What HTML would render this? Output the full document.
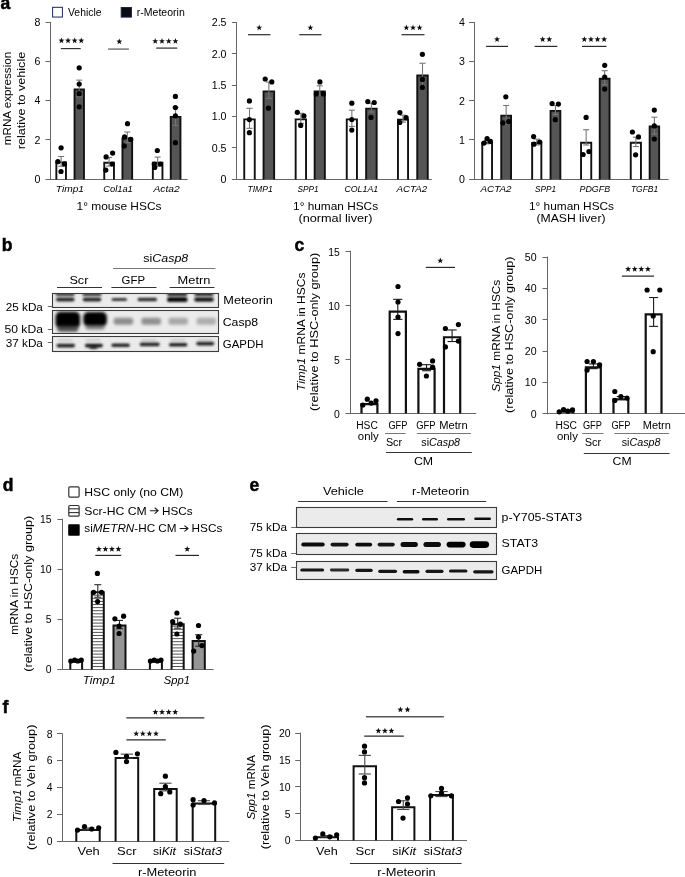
<!DOCTYPE html>
<html><head><meta charset="utf-8"><title>Figure</title>
<style>
html,body{margin:0;padding:0;background:#fff;}
svg{display:block;will-change:transform;}
text{font-family:"Liberation Sans", sans-serif;}
</style></head>
<body>
<svg width="685" height="877" viewBox="0 0 685 877">
<defs>
<filter id="bl0" x="-20%" y="-50%" width="140%" height="200%"><feGaussianBlur stdDeviation="0.55"/></filter>
<filter id="blh" x="-20%" y="-50%" width="140%" height="200%"><feGaussianBlur stdDeviation="0.7"/></filter>
<filter id="bl1" x="-20%" y="-50%" width="140%" height="200%"><feGaussianBlur stdDeviation="0.8"/></filter>
<filter id="bl2" x="-20%" y="-50%" width="140%" height="200%"><feGaussianBlur stdDeviation="1.4"/></filter>
<filter id="bl3" x="-30%" y="-50%" width="160%" height="200%"><feGaussianBlur stdDeviation="2.2"/></filter>
<clipPath id="cb0"><rect x="52.5" y="293.5" width="166" height="14"/></clipPath>
<clipPath id="cb1"><rect x="52.5" y="310.5" width="166" height="23"/></clipPath>
<clipPath id="cb2"><rect x="52.5" y="336.5" width="166" height="15"/></clipPath>
<clipPath id="cb3"><rect x="296.5" y="507.5" width="200" height="20"/></clipPath>
<clipPath id="cb4"><rect x="296.5" y="533.5" width="200" height="21"/></clipPath>
<clipPath id="cb5"><rect x="296.5" y="561.5" width="200" height="18"/></clipPath>
</defs>
<rect width="685" height="877" fill="#fff"/>
<text x="0.4" y="8.8" font-size="17.5" font-weight="bold" fill="#000" stroke="#000" stroke-width="0.5">a</text>
<rect x="52.55" y="7.35" width="9.9" height="9.7" fill="#fff" stroke="#2b3d66" stroke-width="1.1"/>
<text x="68" y="16.1" font-size="10.2" textLength="33.5" lengthAdjust="spacingAndGlyphs">Vehicle</text>
<rect x="121.2" y="7.5" width="10.2" height="9.6" fill="#0b0b16" stroke="#1b2440" stroke-width="1"/>
<text x="136.8" y="16.1" font-size="10.2" textLength="48" lengthAdjust="spacingAndGlyphs">r-Meteorin</text>
<text x="10.8" y="98.5" font-size="11.4" text-anchor="middle" textLength="93.5" lengthAdjust="spacingAndGlyphs" transform="rotate(-90 10.8 98.5)">mRNA expression</text>
<text x="24.7" y="100.5" font-size="11.4" text-anchor="middle" textLength="97.5" lengthAdjust="spacingAndGlyphs" transform="rotate(-90 24.7 100.5)">relative to vehicle</text>
<line x1="50.5" y1="21.9" x2="50.5" y2="179.5" stroke="#666666" stroke-width="1"/>
<line x1="50" y1="179.5" x2="187.6" y2="179.5" stroke="#666666" stroke-width="1"/>
<line x1="45.5" y1="179.5" x2="50.5" y2="179.5" stroke="#666666" stroke-width="1"/>
<text x="40.5" y="182.79" font-size="10.6" text-anchor="end">0</text>
<line x1="45.5" y1="139.5" x2="50.5" y2="139.5" stroke="#666666" stroke-width="1"/>
<text x="40.5" y="143.64" font-size="10.6" text-anchor="end">2</text>
<line x1="45.5" y1="100.5" x2="50.5" y2="100.5" stroke="#666666" stroke-width="1"/>
<text x="40.5" y="104.49" font-size="10.6" text-anchor="end">4</text>
<line x1="45.5" y1="61.5" x2="50.5" y2="61.5" stroke="#666666" stroke-width="1"/>
<text x="40.5" y="65.34" font-size="10.6" text-anchor="end">6</text>
<line x1="45.5" y1="22.5" x2="50.5" y2="22.5" stroke="#666666" stroke-width="1"/>
<text x="40.5" y="26.19" font-size="10.6" text-anchor="end">8</text>
<rect x="56.35" y="162.33" width="9.6" height="16.67" fill="#fff"/>
<path d="M56.35 179.5V162.33H65.95V179.5" fill="none" stroke="#111" stroke-width="1.9" stroke-linejoin="miter"/>
<line x1="61.15" y1="156.49" x2="61.15" y2="166.28" stroke="#777" stroke-width="1.1"/>
<line x1="58.15" y1="156.49" x2="64.15" y2="156.49" stroke="#777" stroke-width="1.1"/>
<line x1="58.15" y1="166.28" x2="64.15" y2="166.28" stroke="#777" stroke-width="1.1"/>
<circle cx="61.1" cy="147.8" r="2.6" fill="#000"/>
<circle cx="57.8" cy="161.7" r="2.6" fill="#000"/>
<circle cx="64.5" cy="163.9" r="2.6" fill="#000"/>
<circle cx="61" cy="171.5" r="2.6" fill="#000"/>
<rect x="74.55" y="89.51" width="9.4" height="89.49" fill="#555555"/>
<path d="M74.55 179.5V89.51H83.95V179.5" fill="none" stroke="#111" stroke-width="1.9" stroke-linejoin="miter"/>
<line x1="79.25" y1="80.15" x2="79.25" y2="96.78" stroke="#777" stroke-width="1.1"/>
<line x1="76.25" y1="80.15" x2="82.25" y2="80.15" stroke="#777" stroke-width="1.1"/>
<line x1="76.25" y1="96.78" x2="82.25" y2="96.78" stroke="#777" stroke-width="1.1"/>
<circle cx="79.2" cy="67.8" r="2.6" fill="#000"/>
<circle cx="79.2" cy="84.1" r="2.6" fill="#000"/>
<circle cx="79.2" cy="93.7" r="2.6" fill="#000"/>
<circle cx="79.2" cy="106.8" r="2.6" fill="#000"/>
<rect x="104.25" y="162.72" width="9.7" height="16.28" fill="#fff"/>
<path d="M104.25 179.5V162.72H113.95V179.5" fill="none" stroke="#111" stroke-width="1.9" stroke-linejoin="miter"/>
<line x1="109.1" y1="157.47" x2="109.1" y2="166.08" stroke="#777" stroke-width="1.1"/>
<line x1="106.1" y1="157.47" x2="112.1" y2="157.47" stroke="#777" stroke-width="1.1"/>
<line x1="106.1" y1="166.08" x2="112.1" y2="166.08" stroke="#777" stroke-width="1.1"/>
<circle cx="106.1" cy="156.9" r="2.6" fill="#000"/>
<circle cx="112.6" cy="153.1" r="2.6" fill="#000"/>
<circle cx="112.3" cy="164" r="2.6" fill="#000"/>
<circle cx="105.8" cy="170.1" r="2.6" fill="#000"/>
<rect x="122.45" y="138.45" width="9.7" height="40.55" fill="#555555"/>
<path d="M122.45 179.5V138.45H132.15V179.5" fill="none" stroke="#111" stroke-width="1.9" stroke-linejoin="miter"/>
<line x1="127.3" y1="132.02" x2="127.3" y2="142.79" stroke="#777" stroke-width="1.1"/>
<line x1="124.3" y1="132.02" x2="130.3" y2="132.02" stroke="#777" stroke-width="1.1"/>
<line x1="124.3" y1="142.79" x2="130.3" y2="142.79" stroke="#777" stroke-width="1.1"/>
<circle cx="127.5" cy="123.7" r="2.6" fill="#000"/>
<circle cx="124.5" cy="136.8" r="2.6" fill="#000"/>
<circle cx="130.7" cy="139.4" r="2.6" fill="#000"/>
<circle cx="124.2" cy="145.9" r="2.6" fill="#000"/>
<rect x="152.85" y="162.72" width="9.6" height="16.28" fill="#fff"/>
<path d="M152.85 179.5V162.72H162.45V179.5" fill="none" stroke="#111" stroke-width="1.9" stroke-linejoin="miter"/>
<line x1="157.65" y1="157.08" x2="157.65" y2="166.28" stroke="#777" stroke-width="1.1"/>
<line x1="154.65" y1="157.08" x2="160.65" y2="157.08" stroke="#777" stroke-width="1.1"/>
<line x1="154.65" y1="166.28" x2="160.65" y2="166.28" stroke="#777" stroke-width="1.1"/>
<circle cx="157.3" cy="150.5" r="2.6" fill="#000"/>
<circle cx="154.3" cy="164" r="2.6" fill="#000"/>
<circle cx="160.4" cy="164" r="2.6" fill="#000"/>
<circle cx="154.7" cy="167.4" r="2.6" fill="#000"/>
<rect x="170.75" y="116.92" width="9.7" height="62.08" fill="#555555"/>
<path d="M170.75 179.5V116.92H180.45V179.5" fill="none" stroke="#111" stroke-width="1.9" stroke-linejoin="miter"/>
<line x1="175.6" y1="107.36" x2="175.6" y2="125.36" stroke="#777" stroke-width="1.1"/>
<line x1="172.6" y1="107.36" x2="178.6" y2="107.36" stroke="#777" stroke-width="1.1"/>
<line x1="172.6" y1="125.36" x2="178.6" y2="125.36" stroke="#777" stroke-width="1.1"/>
<circle cx="175.4" cy="96.4" r="2.6" fill="#000"/>
<circle cx="175.4" cy="107.5" r="2.6" fill="#000"/>
<circle cx="175.4" cy="115.8" r="2.6" fill="#000"/>
<circle cx="175.4" cy="142.7" r="2.6" fill="#000"/>
<line x1="60.8" y1="48.6" x2="80.7" y2="48.6" stroke="#333" stroke-width="1.2"/>
<polygon points="61.45,37.45 62.23,39.53 64.45,39.63 62.71,41.01 63.3,43.15 61.45,41.92 59.6,43.15 60.19,41.01 58.45,39.63 60.67,39.53" fill="#111"/>
<polygon points="68.05,37.45 68.83,39.53 71.05,39.63 69.31,41.01 69.9,43.15 68.05,41.92 66.2,43.15 66.79,41.01 65.05,39.63 67.27,39.53" fill="#111"/>
<polygon points="74.65,37.45 75.43,39.53 77.65,39.63 75.91,41.01 76.5,43.15 74.65,41.92 72.8,43.15 73.39,41.01 71.65,39.63 73.87,39.53" fill="#111"/>
<polygon points="81.25,37.45 82.03,39.53 84.25,39.63 82.51,41.01 83.1,43.15 81.25,41.92 79.4,43.15 79.99,41.01 78.25,39.63 80.47,39.53" fill="#111"/>
<line x1="108.1" y1="49.1" x2="128.9" y2="49.1" stroke="#777" stroke-width="1.5"/>
<polygon points="119.3,38.45 120.08,40.53 122.3,40.63 120.56,42.01 121.15,44.15 119.3,42.92 117.45,44.15 118.04,42.01 116.3,40.63 118.52,40.53" fill="#111"/>
<line x1="156.2" y1="48.1" x2="177.3" y2="48.1" stroke="#2a2a2a" stroke-width="1.2"/>
<polygon points="155.22,38.05 156,40.13 158.22,40.23 156.48,41.61 157.08,43.75 155.22,42.52 153.37,43.75 153.97,41.61 152.23,40.23 154.45,40.13" fill="#111"/>
<polygon points="161.97,38.05 162.75,40.13 164.97,40.23 163.23,41.61 163.83,43.75 161.97,42.52 160.12,43.75 160.72,41.61 158.98,40.23 161.2,40.13" fill="#111"/>
<polygon points="168.72,38.05 169.5,40.13 171.72,40.23 169.98,41.61 170.58,43.75 168.72,42.52 166.87,43.75 167.47,41.61 165.73,40.23 167.95,40.13" fill="#111"/>
<polygon points="175.47,38.05 176.25,40.13 178.47,40.23 176.73,41.61 177.33,43.75 175.47,42.52 173.62,43.75 174.22,41.61 172.48,40.23 174.7,40.13" fill="#111"/>
<text x="69.9" y="192" font-size="9.6" text-anchor="middle" font-style="italic" textLength="28.3" lengthAdjust="spacingAndGlyphs">Timp1</text>
<text x="118" y="192" font-size="9.6" text-anchor="middle" font-style="italic" textLength="29.6" lengthAdjust="spacingAndGlyphs">Col1a1</text>
<text x="166.6" y="192" font-size="9.6" text-anchor="middle" font-style="italic" textLength="26.3" lengthAdjust="spacingAndGlyphs">Acta2</text>
<text x="119" y="210.2" font-size="11.3" text-anchor="middle" textLength="85" lengthAdjust="spacingAndGlyphs">1° mouse HSCs</text>
<line x1="236.5" y1="22.1" x2="236.5" y2="179.5" stroke="#666666" stroke-width="1"/>
<line x1="236.4" y1="179.5" x2="431.8" y2="179.5" stroke="#666666" stroke-width="1"/>
<line x1="231.9" y1="179.5" x2="236.9" y2="179.5" stroke="#666666" stroke-width="1"/>
<text x="226.5" y="182.79" font-size="10.6" text-anchor="end">0</text>
<line x1="231.9" y1="147.5" x2="236.9" y2="147.5" stroke="#666666" stroke-width="1"/>
<text x="226.5" y="151.51" font-size="10.6" text-anchor="end">0.5</text>
<line x1="231.9" y1="116.5" x2="236.9" y2="116.5" stroke="#666666" stroke-width="1"/>
<text x="226.5" y="120.23" font-size="10.6" text-anchor="end">1.0</text>
<line x1="231.9" y1="85.5" x2="236.9" y2="85.5" stroke="#666666" stroke-width="1"/>
<text x="226.5" y="88.95" font-size="10.6" text-anchor="end">1.5</text>
<line x1="231.9" y1="53.5" x2="236.9" y2="53.5" stroke="#666666" stroke-width="1"/>
<text x="226.5" y="57.67" font-size="10.6" text-anchor="end">2.0</text>
<line x1="231.9" y1="22.5" x2="236.9" y2="22.5" stroke="#666666" stroke-width="1"/>
<text x="226.5" y="26.39" font-size="10.6" text-anchor="end">2.5</text>
<rect x="244.25" y="119.33" width="10.5" height="59.67" fill="#fff"/>
<path d="M244.25 179.5V119.33H254.75V179.5" fill="none" stroke="#111" stroke-width="1.9" stroke-linejoin="miter"/>
<line x1="249.5" y1="108.31" x2="249.5" y2="128.33" stroke="#777" stroke-width="1.1"/>
<line x1="246.4" y1="108.31" x2="252.6" y2="108.31" stroke="#777" stroke-width="1.1"/>
<line x1="246.4" y1="128.33" x2="252.6" y2="128.33" stroke="#777" stroke-width="1.1"/>
<circle cx="249.4" cy="100.9" r="2.6" fill="#000"/>
<circle cx="249.4" cy="119.6" r="2.6" fill="#000"/>
<circle cx="249.4" cy="132.7" r="2.6" fill="#000"/>
<rect x="263.55" y="91.37" width="10.6" height="87.63" fill="#555555"/>
<path d="M263.55 179.5V91.37H274.15V179.5" fill="none" stroke="#111" stroke-width="1.9" stroke-linejoin="miter"/>
<line x1="268.85" y1="82.03" x2="268.85" y2="98.3" stroke="#777" stroke-width="1.1"/>
<line x1="265.73" y1="82.03" x2="271.98" y2="82.03" stroke="#777" stroke-width="1.1"/>
<line x1="265.73" y1="98.3" x2="271.98" y2="98.3" stroke="#777" stroke-width="1.1"/>
<circle cx="265.2" cy="79" r="2.6" fill="#000"/>
<circle cx="271.8" cy="81.9" r="2.6" fill="#000"/>
<circle cx="268.4" cy="108.2" r="2.6" fill="#000"/>
<rect x="295.65" y="119.33" width="10.4" height="59.67" fill="#fff"/>
<path d="M295.65 179.5V119.33H306.05V179.5" fill="none" stroke="#111" stroke-width="1.9" stroke-linejoin="miter"/>
<line x1="300.85" y1="113.31" x2="300.85" y2="123.32" stroke="#777" stroke-width="1.1"/>
<line x1="297.78" y1="113.31" x2="303.93" y2="113.31" stroke="#777" stroke-width="1.1"/>
<line x1="297.78" y1="123.32" x2="303.93" y2="123.32" stroke="#777" stroke-width="1.1"/>
<circle cx="297.3" cy="112.3" r="2.6" fill="#000"/>
<circle cx="303.9" cy="115.9" r="2.6" fill="#000"/>
<circle cx="300.7" cy="125.4" r="2.6" fill="#000"/>
<rect x="314.65" y="91.37" width="10.2" height="87.63" fill="#555555"/>
<path d="M314.65 179.5V91.37H324.85V179.5" fill="none" stroke="#111" stroke-width="1.9" stroke-linejoin="miter"/>
<line x1="319.75" y1="85.79" x2="319.75" y2="95.17" stroke="#777" stroke-width="1.1"/>
<line x1="316.73" y1="85.79" x2="322.77" y2="85.79" stroke="#777" stroke-width="1.1"/>
<line x1="316.73" y1="95.17" x2="322.77" y2="95.17" stroke="#777" stroke-width="1.1"/>
<circle cx="319.9" cy="81.9" r="2.6" fill="#000"/>
<circle cx="316.3" cy="93.9" r="2.6" fill="#000"/>
<circle cx="323.3" cy="93.9" r="2.6" fill="#000"/>
<rect x="346.75" y="119.33" width="10.2" height="59.67" fill="#fff"/>
<path d="M346.75 179.5V119.33H356.95V179.5" fill="none" stroke="#111" stroke-width="1.9" stroke-linejoin="miter"/>
<line x1="351.85" y1="110.18" x2="351.85" y2="126.45" stroke="#777" stroke-width="1.1"/>
<line x1="348.83" y1="110.18" x2="354.88" y2="110.18" stroke="#777" stroke-width="1.1"/>
<line x1="348.83" y1="126.45" x2="354.88" y2="126.45" stroke="#777" stroke-width="1.1"/>
<circle cx="351.8" cy="103.2" r="2.6" fill="#000"/>
<circle cx="351.8" cy="119.6" r="2.6" fill="#000"/>
<circle cx="351.8" cy="130.1" r="2.6" fill="#000"/>
<rect x="366.15" y="108.63" width="10.5" height="70.37" fill="#555555"/>
<path d="M366.15 179.5V108.63H376.65V179.5" fill="none" stroke="#111" stroke-width="1.9" stroke-linejoin="miter"/>
<line x1="371.4" y1="103.3" x2="371.4" y2="112.06" stroke="#777" stroke-width="1.1"/>
<line x1="368.3" y1="103.3" x2="374.5" y2="103.3" stroke="#777" stroke-width="1.1"/>
<line x1="368.3" y1="112.06" x2="374.5" y2="112.06" stroke="#777" stroke-width="1.1"/>
<circle cx="367.8" cy="101.6" r="2.6" fill="#000"/>
<circle cx="374.2" cy="102.5" r="2.6" fill="#000"/>
<circle cx="371" cy="117.4" r="2.6" fill="#000"/>
<rect x="397.95" y="119.64" width="10.1" height="59.36" fill="#fff"/>
<path d="M397.95 179.5V119.64H408.05V179.5" fill="none" stroke="#111" stroke-width="1.9" stroke-linejoin="miter"/>
<line x1="403" y1="115.19" x2="403" y2="122.07" stroke="#777" stroke-width="1.1"/>
<line x1="400" y1="115.19" x2="406" y2="115.19" stroke="#777" stroke-width="1.1"/>
<line x1="400" y1="122.07" x2="406" y2="122.07" stroke="#777" stroke-width="1.1"/>
<circle cx="399.9" cy="112.6" r="2.6" fill="#000"/>
<circle cx="406.1" cy="117.7" r="2.6" fill="#000"/>
<circle cx="399.8" cy="122.5" r="2.6" fill="#000"/>
<rect x="417.25" y="75.47" width="10.5" height="103.53" fill="#555555"/>
<path d="M417.25 179.5V75.47H427.75V179.5" fill="none" stroke="#111" stroke-width="1.9" stroke-linejoin="miter"/>
<line x1="422.5" y1="63.26" x2="422.5" y2="85.79" stroke="#777" stroke-width="1.1"/>
<line x1="419.4" y1="63.26" x2="425.6" y2="63.26" stroke="#777" stroke-width="1.1"/>
<line x1="419.4" y1="85.79" x2="425.6" y2="85.79" stroke="#777" stroke-width="1.1"/>
<circle cx="422.4" cy="54.3" r="2.6" fill="#000"/>
<circle cx="422.4" cy="79.4" r="2.6" fill="#000"/>
<circle cx="422.4" cy="87.4" r="2.6" fill="#000"/>
<line x1="248" y1="34.7" x2="270.4" y2="34.7" stroke="#2a2a2a" stroke-width="1.2"/>
<polygon points="259.2,24.55 259.98,26.63 262.2,26.73 260.46,28.11 261.05,30.25 259.2,29.02 257.35,30.25 257.94,28.11 256.2,26.73 258.42,26.63" fill="#111"/>
<line x1="299.3" y1="34.7" x2="321.5" y2="34.7" stroke="#2a2a2a" stroke-width="1.2"/>
<polygon points="310.4,24.55 311.18,26.63 313.4,26.73 311.66,28.11 312.25,30.25 310.4,29.02 308.55,30.25 309.14,28.11 307.4,26.73 309.62,26.63" fill="#111"/>
<line x1="401.5" y1="34.7" x2="424.5" y2="34.7" stroke="#2a2a2a" stroke-width="1.2"/>
<polygon points="406.4,24.55 407.18,26.63 409.4,26.73 407.66,28.11 408.25,30.25 406.4,29.02 404.55,30.25 405.14,28.11 403.4,26.73 405.62,26.63" fill="#111"/>
<polygon points="413,24.55 413.78,26.63 416,26.73 414.26,28.11 414.85,30.25 413,29.02 411.15,30.25 411.74,28.11 410,26.73 412.22,26.63" fill="#111"/>
<polygon points="419.6,24.55 420.38,26.63 422.6,26.73 420.86,28.11 421.45,30.25 419.6,29.02 417.75,30.25 418.34,28.11 416.6,26.73 418.82,26.63" fill="#111"/>
<text x="260.1" y="191.8" font-size="9.3" text-anchor="middle" font-style="italic" textLength="25.4" lengthAdjust="spacingAndGlyphs">TIMP1</text>
<text x="308" y="191.8" font-size="9.3" text-anchor="middle" font-style="italic" textLength="21.2" lengthAdjust="spacingAndGlyphs">SPP1</text>
<text x="361.3" y="191.8" font-size="9.3" text-anchor="middle" font-style="italic" textLength="33.8" lengthAdjust="spacingAndGlyphs">COL1A1</text>
<text x="411.9" y="191.8" font-size="9.3" text-anchor="middle" font-style="italic" textLength="30.8" lengthAdjust="spacingAndGlyphs">ACTA2</text>
<text x="335.6" y="210.1" font-size="11.3" text-anchor="middle" textLength="85" lengthAdjust="spacingAndGlyphs">1° human HSCs</text>
<text x="335.5" y="222.3" font-size="11.3" text-anchor="middle" textLength="74" lengthAdjust="spacingAndGlyphs">(normal liver)</text>
<line x1="474.5" y1="22.1" x2="474.5" y2="179.5" stroke="#666666" stroke-width="1"/>
<line x1="473.6" y1="179.5" x2="668.6" y2="179.5" stroke="#666666" stroke-width="1"/>
<line x1="469.1" y1="179.5" x2="474.1" y2="179.5" stroke="#666666" stroke-width="1"/>
<text x="465" y="182.79" font-size="10.6" text-anchor="end">0</text>
<line x1="469.1" y1="139.5" x2="474.1" y2="139.5" stroke="#666666" stroke-width="1"/>
<text x="465" y="143.69" font-size="10.6" text-anchor="end">1</text>
<line x1="469.1" y1="100.5" x2="474.1" y2="100.5" stroke="#666666" stroke-width="1"/>
<text x="465" y="104.59" font-size="10.6" text-anchor="end">2</text>
<line x1="469.1" y1="61.5" x2="474.1" y2="61.5" stroke="#666666" stroke-width="1"/>
<text x="465" y="65.49" font-size="10.6" text-anchor="end">3</text>
<line x1="469.1" y1="22.5" x2="474.1" y2="22.5" stroke="#666666" stroke-width="1"/>
<text x="465" y="26.39" font-size="10.6" text-anchor="end">4</text>
<rect x="482.25" y="142.96" width="9.8" height="36.04" fill="#fff"/>
<path d="M482.25 179.5V142.96H492.05V179.5" fill="none" stroke="#111" stroke-width="1.9" stroke-linejoin="miter"/>
<line x1="487.15" y1="140.29" x2="487.15" y2="143.81" stroke="#777" stroke-width="1.1"/>
<line x1="484.15" y1="140.29" x2="490.15" y2="140.29" stroke="#777" stroke-width="1.1"/>
<line x1="484.15" y1="143.81" x2="490.15" y2="143.81" stroke="#777" stroke-width="1.1"/>
<circle cx="483.9" cy="143.1" r="2.6" fill="#000"/>
<circle cx="487.1" cy="138.7" r="2.6" fill="#000"/>
<circle cx="490.4" cy="141.3" r="2.6" fill="#000"/>
<rect x="501.25" y="115.63" width="9.8" height="63.37" fill="#555555"/>
<path d="M501.25 179.5V115.63H511.05V179.5" fill="none" stroke="#111" stroke-width="1.9" stroke-linejoin="miter"/>
<line x1="506.15" y1="105.49" x2="506.15" y2="123.87" stroke="#777" stroke-width="1.1"/>
<line x1="503.15" y1="105.49" x2="509.15" y2="105.49" stroke="#777" stroke-width="1.1"/>
<line x1="503.15" y1="123.87" x2="509.15" y2="123.87" stroke="#777" stroke-width="1.1"/>
<circle cx="505.8" cy="96.8" r="2.6" fill="#000"/>
<circle cx="502.9" cy="122.8" r="2.6" fill="#000"/>
<circle cx="508.7" cy="121.6" r="2.6" fill="#000"/>
<rect x="532.15" y="142.96" width="9.2" height="36.04" fill="#fff"/>
<path d="M532.15 179.5V142.96H541.35V179.5" fill="none" stroke="#111" stroke-width="1.9" stroke-linejoin="miter"/>
<line x1="536.75" y1="139.12" x2="536.75" y2="144.98" stroke="#777" stroke-width="1.1"/>
<line x1="533.75" y1="139.12" x2="539.75" y2="139.12" stroke="#777" stroke-width="1.1"/>
<line x1="533.75" y1="144.98" x2="539.75" y2="144.98" stroke="#777" stroke-width="1.1"/>
<circle cx="533.6" cy="136.6" r="2.6" fill="#000"/>
<circle cx="533.9" cy="144.2" r="2.6" fill="#000"/>
<circle cx="539.7" cy="142" r="2.6" fill="#000"/>
<rect x="550.55" y="110.86" width="9.8" height="68.14" fill="#555555"/>
<path d="M550.55 179.5V110.86H560.35V179.5" fill="none" stroke="#111" stroke-width="1.9" stroke-linejoin="miter"/>
<line x1="555.45" y1="105.49" x2="555.45" y2="114.48" stroke="#777" stroke-width="1.1"/>
<line x1="552.45" y1="105.49" x2="558.45" y2="105.49" stroke="#777" stroke-width="1.1"/>
<line x1="552.45" y1="114.48" x2="558.45" y2="114.48" stroke="#777" stroke-width="1.1"/>
<circle cx="552.1" cy="103.6" r="2.6" fill="#000"/>
<circle cx="558.4" cy="104.1" r="2.6" fill="#000"/>
<circle cx="555.3" cy="119.7" r="2.6" fill="#000"/>
<rect x="581.05" y="142.8" width="10.2" height="36.2" fill="#fff"/>
<path d="M581.05 179.5V142.8H591.25V179.5" fill="none" stroke="#111" stroke-width="1.9" stroke-linejoin="miter"/>
<line x1="586.15" y1="129.73" x2="586.15" y2="144.98" stroke="#777" stroke-width="1.1"/>
<line x1="583.13" y1="129.73" x2="589.18" y2="129.73" stroke="#777" stroke-width="1.1"/>
<line x1="583.13" y1="144.98" x2="589.18" y2="144.98" stroke="#777" stroke-width="1.1"/>
<circle cx="586.1" cy="117.4" r="2.6" fill="#000"/>
<circle cx="583.1" cy="154.5" r="2.6" fill="#000"/>
<circle cx="588.9" cy="151.6" r="2.6" fill="#000"/>
<rect x="599.75" y="78.68" width="9.8" height="100.32" fill="#555555"/>
<path d="M599.75 179.5V78.68H609.55V179.5" fill="none" stroke="#111" stroke-width="1.9" stroke-linejoin="miter"/>
<line x1="604.65" y1="70.69" x2="604.65" y2="84.77" stroke="#777" stroke-width="1.1"/>
<line x1="601.65" y1="70.69" x2="607.65" y2="70.69" stroke="#777" stroke-width="1.1"/>
<line x1="601.65" y1="84.77" x2="607.65" y2="84.77" stroke="#777" stroke-width="1.1"/>
<circle cx="604.7" cy="65.3" r="2.6" fill="#000"/>
<circle cx="604.7" cy="77" r="2.6" fill="#000"/>
<circle cx="604.7" cy="89.1" r="2.6" fill="#000"/>
<rect x="630.75" y="142.8" width="10.2" height="36.2" fill="#fff"/>
<path d="M630.75 179.5V142.8H640.95V179.5" fill="none" stroke="#111" stroke-width="1.9" stroke-linejoin="miter"/>
<line x1="635.85" y1="137.16" x2="635.85" y2="146.55" stroke="#777" stroke-width="1.1"/>
<line x1="632.82" y1="137.16" x2="638.87" y2="137.16" stroke="#777" stroke-width="1.1"/>
<line x1="632.82" y1="146.55" x2="638.87" y2="146.55" stroke="#777" stroke-width="1.1"/>
<circle cx="632.4" cy="132" r="2.6" fill="#000"/>
<circle cx="638.5" cy="136.9" r="2.6" fill="#000"/>
<circle cx="635.6" cy="154.8" r="2.6" fill="#000"/>
<rect x="649.65" y="126.54" width="9.5" height="52.46" fill="#555555"/>
<path d="M649.65 179.5V126.54H659.15V179.5" fill="none" stroke="#111" stroke-width="1.9" stroke-linejoin="miter"/>
<line x1="654.4" y1="117.22" x2="654.4" y2="134.03" stroke="#777" stroke-width="1.1"/>
<line x1="651.4" y1="117.22" x2="657.4" y2="117.22" stroke="#777" stroke-width="1.1"/>
<line x1="651.4" y1="134.03" x2="657.4" y2="134.03" stroke="#777" stroke-width="1.1"/>
<circle cx="654.3" cy="110.1" r="2.6" fill="#000"/>
<circle cx="654.3" cy="125.9" r="2.6" fill="#000"/>
<circle cx="654.3" cy="139" r="2.6" fill="#000"/>
<line x1="486.1" y1="46.4" x2="508" y2="46.4" stroke="#2a2a2a" stroke-width="1.2"/>
<polygon points="497.05,36.25 497.83,38.33 500.05,38.43 498.31,39.81 498.9,41.95 497.05,40.72 495.2,41.95 495.79,39.81 494.05,38.43 496.27,38.33" fill="#111"/>
<line x1="534.6" y1="46.4" x2="557.3" y2="46.4" stroke="#2a2a2a" stroke-width="1.2"/>
<polygon points="542.65,36.25 543.43,38.33 545.65,38.43 543.91,39.81 544.5,41.95 542.65,40.72 540.8,41.95 541.39,39.81 539.65,38.43 541.87,38.33" fill="#111"/>
<polygon points="549.25,36.25 550.03,38.33 552.25,38.43 550.51,39.81 551.1,41.95 549.25,40.72 547.4,41.95 547.99,39.81 546.25,38.43 548.47,38.33" fill="#111"/>
<line x1="582" y1="46.4" x2="606.5" y2="46.4" stroke="#2a2a2a" stroke-width="1.2"/>
<polygon points="584.35,36.25 585.13,38.33 587.35,38.43 585.61,39.81 586.2,41.95 584.35,40.72 582.5,41.95 583.09,39.81 581.35,38.43 583.57,38.33" fill="#111"/>
<polygon points="590.95,36.25 591.73,38.33 593.95,38.43 592.21,39.81 592.8,41.95 590.95,40.72 589.1,41.95 589.69,39.81 587.95,38.43 590.17,38.33" fill="#111"/>
<polygon points="597.55,36.25 598.33,38.33 600.55,38.43 598.81,39.81 599.4,41.95 597.55,40.72 595.7,41.95 596.29,39.81 594.55,38.43 596.77,38.33" fill="#111"/>
<polygon points="604.15,36.25 604.93,38.33 607.15,38.43 605.41,39.81 606,41.95 604.15,40.72 602.3,41.95 602.89,39.81 601.15,38.43 603.37,38.33" fill="#111"/>
<text x="496" y="191.8" font-size="9.3" text-anchor="middle" font-style="italic" textLength="31.1" lengthAdjust="spacingAndGlyphs">ACTA2</text>
<text x="545.5" y="191.8" font-size="9.3" text-anchor="middle" font-style="italic" textLength="21.1" lengthAdjust="spacingAndGlyphs">SPP1</text>
<text x="594.8" y="191.8" font-size="9.3" text-anchor="middle" font-style="italic" textLength="30.6" lengthAdjust="spacingAndGlyphs">PDGFB</text>
<text x="644.6" y="191.8" font-size="9.3" text-anchor="middle" font-style="italic" textLength="27.3" lengthAdjust="spacingAndGlyphs">TGFB1</text>
<text x="571.5" y="210.1" font-size="11.3" text-anchor="middle" textLength="85" lengthAdjust="spacingAndGlyphs">1° human HSCs</text>
<text x="571" y="222.3" font-size="11.3" text-anchor="middle" textLength="69" lengthAdjust="spacingAndGlyphs">(MASH liver)</text>
<text x="1.8" y="250.9" font-size="17.5" font-weight="bold" fill="#000" stroke="#000" stroke-width="0.5">b</text>
<text x="165.8" y="261.9" font-size="11.3" text-anchor="middle" textLength="45" lengthAdjust="spacingAndGlyphs">si<tspan font-style="italic">Casp8</tspan></text>
<line x1="113.1" y1="268.5" x2="215.4" y2="268.5" stroke="#777" stroke-width="1"/>
<text x="78.9" y="283.6" font-size="11.3" text-anchor="middle" textLength="19" lengthAdjust="spacingAndGlyphs">Scr</text>
<line x1="57" y1="287.5" x2="102" y2="287.5" stroke="#333" stroke-width="1"/>
<text x="133.3" y="283.6" font-size="11.3" text-anchor="middle" textLength="23.5" lengthAdjust="spacingAndGlyphs">GFP</text>
<line x1="111.4" y1="287.5" x2="156.5" y2="287.5" stroke="#333" stroke-width="1"/>
<text x="194" y="283.6" font-size="11.3" text-anchor="middle" textLength="32.8" lengthAdjust="spacingAndGlyphs">Metrn</text>
<line x1="169.6" y1="287.5" x2="214.5" y2="287.5" stroke="#333" stroke-width="1"/>
<rect x="52.5" y="293.5" width="166" height="14" fill="#ebebeb"/>
<rect x="52.5" y="310.5" width="166" height="23" fill="#ebebeb"/>
<rect x="52.5" y="336.5" width="166" height="15" fill="#ebebeb"/>
<g clip-path="url(#cb0)">
<rect x="55.6" y="293.1" width="19" height="3" rx="1.5" fill="#1a1a1a" filter="url(#bl1)" opacity="0.85"/>
<rect x="82.5" y="293.1" width="19" height="3" rx="1.5" fill="#1a1a1a" filter="url(#bl1)" opacity="0.85"/>
<rect x="167.2" y="293.1" width="20" height="3" rx="1.5" fill="#1a1a1a" filter="url(#bl1)"/>
<rect x="194.5" y="293.1" width="19" height="3" rx="1.5" fill="#1a1a1a" filter="url(#bl1)" opacity="0.95"/>
<rect x="56.05" y="297.5" width="18.5" height="4" rx="2" fill="#2a2a2a" filter="url(#bl1)"/>
<rect x="82.75" y="297.5" width="18.5" height="4" rx="2" fill="#2a2a2a" filter="url(#bl1)"/>
<rect x="111.55" y="298" width="15.5" height="3" rx="1.5" fill="#383838" filter="url(#bl1)"/>
<rect x="137.55" y="297.85" width="19.5" height="3.3" rx="1.65" fill="#2e2e2e" filter="url(#bl1)"/>
<rect x="167.05" y="296.9" width="20.5" height="5.2" rx="2.6" fill="#111" filter="url(#bl1)"/>
<rect x="194.25" y="297.2" width="19.5" height="4.6" rx="2.3" fill="#1a1a1a" filter="url(#bl1)"/>
</g>
<g clip-path="url(#cb1)">
<rect x="55.55" y="311.75" width="24.5" height="16.5" rx="5" fill="#000" filter="url(#bl2)"/>
<rect x="57.3" y="325.55" width="21" height="6.5" rx="3.25" fill="#3a3a3a" filter="url(#bl2)" opacity="0.8"/>
<rect x="83.35" y="312.05" width="23.5" height="14.5" rx="5" fill="#000" filter="url(#bl2)"/>
<rect x="85.6" y="324.7" width="19" height="5" rx="2.5" fill="#555" filter="url(#bl2)" opacity="0.6"/>
<rect x="113.65" y="317.7" width="19.5" height="7" rx="2.5" fill="#8e8e8e" filter="url(#bl2)"/>
<rect x="141.45" y="317.7" width="19.5" height="7" rx="2.5" fill="#909090" filter="url(#bl2)"/>
<rect x="168.45" y="317.7" width="19.5" height="7" rx="2.5" fill="#a8a8a8" filter="url(#bl2)"/>
<rect x="196.55" y="317.7" width="19.5" height="7" rx="2.5" fill="#adadad" filter="url(#bl2)"/>
</g>
<g clip-path="url(#cb2)">
<rect x="56.55" y="343.8" width="18.5" height="3.6" rx="1.8" fill="#262626" filter="url(#bl1)"/>
<rect x="84.9" y="343.8" width="18" height="3.6" rx="1.8" fill="#1e1e1e" filter="url(#bl1)"/>
<rect x="111.35" y="343.4" width="18.5" height="3.6" rx="1.8" fill="#262626" filter="url(#bl1)"/>
<rect x="139.7" y="342.6" width="20" height="3.6" rx="1.8" fill="#2a2a2a" filter="url(#bl1)"/>
<rect x="168.95" y="342.9" width="18.5" height="3.6" rx="1.8" fill="#222" filter="url(#bl1)"/>
<rect x="196.2" y="341.8" width="18" height="3.6" rx="1.8" fill="#262626" filter="url(#bl1)"/>
<rect x="89.5" y="346" width="8" height="3" rx="1.5" fill="#111" filter="url(#bl1)" opacity="0.8"/>
<rect x="57.5" y="339.3" width="15" height="2" rx="1" fill="#999" filter="url(#bl1)" opacity="0.45"/>
<rect x="85.5" y="339.3" width="15" height="2" rx="1" fill="#999" filter="url(#bl1)" opacity="0.45"/>
<rect x="141.5" y="339.3" width="15" height="2" rx="1" fill="#999" filter="url(#bl1)" opacity="0.45"/>
<rect x="170.5" y="339.3" width="15" height="2" rx="1" fill="#999" filter="url(#bl1)" opacity="0.45"/>
<rect x="197.5" y="339.3" width="15" height="2" rx="1" fill="#999" filter="url(#bl1)" opacity="0.45"/>
</g>
<rect x="52.5" y="293.5" width="166" height="14" fill="none" stroke="#3c3c3c" stroke-width="1.1"/>
<rect x="52.5" y="310.5" width="166" height="23" fill="none" stroke="#3c3c3c" stroke-width="1.1"/>
<rect x="52.5" y="336.5" width="166" height="15" fill="none" stroke="#3c3c3c" stroke-width="1.1"/>
<text x="42.9" y="310.6" font-size="10.2" text-anchor="end" textLength="37.2" lengthAdjust="spacingAndGlyphs">25 kDa</text>
<line x1="47.8" y1="306.5" x2="52.2" y2="306.5" stroke="#6a6a6a" stroke-width="1"/>
<text x="42.9" y="332.8" font-size="10.2" text-anchor="end" textLength="38.4" lengthAdjust="spacingAndGlyphs">50 kDa</text>
<line x1="47.8" y1="329.5" x2="52.2" y2="329.5" stroke="#6a6a6a" stroke-width="1"/>
<text x="42.9" y="346.9" font-size="10.2" text-anchor="end" textLength="37.2" lengthAdjust="spacingAndGlyphs">37 kDa</text>
<line x1="47.8" y1="342.5" x2="52.2" y2="342.5" stroke="#6a6a6a" stroke-width="1"/>
<text x="223.3" y="303.8" font-size="11.3" textLength="49.5" lengthAdjust="spacingAndGlyphs">Meteorin</text>
<text x="222.8" y="325.9" font-size="11.3" textLength="35.3" lengthAdjust="spacingAndGlyphs">Casp8</text>
<text x="222.8" y="347.8" font-size="11.3" textLength="40.6" lengthAdjust="spacingAndGlyphs">GAPDH</text>
<text x="294.6" y="250.7" font-size="17.5" font-weight="bold" fill="#000" stroke="#000" stroke-width="0.5">c</text>
<line x1="350.5" y1="250.8" x2="350.5" y2="414.1" stroke="#666666" stroke-width="1"/>
<line x1="350" y1="413.5" x2="476.2" y2="413.5" stroke="#666666" stroke-width="1"/>
<line x1="345.5" y1="413.5" x2="350.5" y2="413.5" stroke="#666666" stroke-width="1"/>
<text x="339.9" y="418.32" font-size="10.4" text-anchor="end">0</text>
<line x1="345.5" y1="359.5" x2="350.5" y2="359.5" stroke="#666666" stroke-width="1"/>
<text x="339.9" y="364.22" font-size="10.4" text-anchor="end">5</text>
<line x1="345.5" y1="305.5" x2="350.5" y2="305.5" stroke="#666666" stroke-width="1"/>
<text x="339.9" y="310.12" font-size="10.4" text-anchor="end">10</text>
<line x1="345.5" y1="251.5" x2="350.5" y2="251.5" stroke="#666666" stroke-width="1"/>
<text x="339.9" y="256.02" font-size="10.4" text-anchor="end">15</text>
<rect x="361.5" y="404.2" width="15.9" height="8.8" fill="#fff"/>
<path d="M361.5 413.5V404.2H377.4V413.5" fill="none" stroke="#111" stroke-width="2.2" stroke-linejoin="miter"/>
<circle cx="362.8" cy="405" r="2.6" fill="#000"/>
<circle cx="367.3" cy="399.2" r="2.6" fill="#000"/>
<circle cx="371.2" cy="403.1" r="2.6" fill="#000"/>
<circle cx="376" cy="400.8" r="2.6" fill="#000"/>
<rect x="389.7" y="311.69" width="16.2" height="101.31" fill="#fff"/>
<path d="M389.7 413.5V311.69H405.9V413.5" fill="none" stroke="#111" stroke-width="2.2" stroke-linejoin="miter"/>
<line x1="397.8" y1="299.34" x2="397.8" y2="319.36" stroke="#1a1a1a" stroke-width="1.1"/>
<line x1="393.2" y1="299.34" x2="402.4" y2="299.34" stroke="#1a1a1a" stroke-width="1.1"/>
<line x1="393.2" y1="319.36" x2="402.4" y2="319.36" stroke="#1a1a1a" stroke-width="1.1"/>
<circle cx="398" cy="286.5" r="2.6" fill="#000"/>
<circle cx="398" cy="302" r="2.6" fill="#000"/>
<circle cx="398" cy="317" r="2.6" fill="#000"/>
<circle cx="398" cy="333.6" r="2.6" fill="#000"/>
<rect x="418.4" y="368.82" width="16.2" height="44.18" fill="#fff"/>
<path d="M418.4 413.5V368.82H434.6V413.5" fill="none" stroke="#111" stroke-width="2.2" stroke-linejoin="miter"/>
<line x1="426.5" y1="364.69" x2="426.5" y2="370.75" stroke="#1a1a1a" stroke-width="1.1"/>
<line x1="421.9" y1="364.69" x2="431.1" y2="364.69" stroke="#1a1a1a" stroke-width="1.1"/>
<line x1="421.9" y1="370.75" x2="431.1" y2="370.75" stroke="#1a1a1a" stroke-width="1.1"/>
<circle cx="419.6" cy="364.3" r="2.6" fill="#000"/>
<circle cx="432.6" cy="360.9" r="2.6" fill="#000"/>
<circle cx="432.6" cy="367.2" r="2.6" fill="#000"/>
<circle cx="426.4" cy="376" r="2.6" fill="#000"/>
<rect x="444" y="337.23" width="16.2" height="75.77" fill="#fff"/>
<path d="M444 413.5V337.23H460.2V413.5" fill="none" stroke="#111" stroke-width="2.2" stroke-linejoin="miter"/>
<line x1="452.1" y1="329.96" x2="452.1" y2="341.54" stroke="#1a1a1a" stroke-width="1.1"/>
<line x1="447.5" y1="329.96" x2="456.7" y2="329.96" stroke="#1a1a1a" stroke-width="1.1"/>
<line x1="447.5" y1="341.54" x2="456.7" y2="341.54" stroke="#1a1a1a" stroke-width="1.1"/>
<circle cx="445.4" cy="328.5" r="2.6" fill="#000"/>
<circle cx="458.4" cy="324.6" r="2.6" fill="#000"/>
<circle cx="445.4" cy="346.9" r="2.6" fill="#000"/>
<circle cx="458.4" cy="341.1" r="2.6" fill="#000"/>
<line x1="425.8" y1="267.4" x2="455" y2="267.4" stroke="#2a2a2a" stroke-width="1.2"/>
<polygon points="440.3,257.55 441.08,259.63 443.3,259.73 441.56,261.11 442.15,263.25 440.3,262.02 438.45,263.25 439.04,261.11 437.3,259.73 439.52,259.63" fill="#111"/>
<text x="305.2" y="331.8" font-size="11" text-anchor="middle" textLength="118.5" lengthAdjust="spacingAndGlyphs" transform="rotate(-90 305.2 331.8)"><tspan font-style="italic">Timp1</tspan> mRNA in HSCs</text>
<text x="318" y="331.8" font-size="11" text-anchor="middle" textLength="158.2" lengthAdjust="spacingAndGlyphs" transform="rotate(-90 318 331.8)">(relative to HSC-only group)</text>
<text x="367" y="428.6" font-size="10" text-anchor="middle" textLength="21.6" lengthAdjust="spacingAndGlyphs">HSC</text>
<text x="368.3" y="439.6" font-size="10" text-anchor="middle" textLength="21" lengthAdjust="spacingAndGlyphs">only</text>
<text x="397.9" y="428.6" font-size="10" text-anchor="middle" textLength="19" lengthAdjust="spacingAndGlyphs">GFP</text>
<text x="425.9" y="428.6" font-size="10" text-anchor="middle" textLength="19.4" lengthAdjust="spacingAndGlyphs">GFP</text>
<text x="453.5" y="428.6" font-size="10" text-anchor="middle" textLength="28.4" lengthAdjust="spacingAndGlyphs">Metrn</text>
<line x1="385.1" y1="433.5" x2="405.6" y2="433.5" stroke="#777" stroke-width="1"/>
<line x1="416.8" y1="433.5" x2="470.9" y2="433.5" stroke="#777" stroke-width="1"/>
<text x="394" y="446.3" font-size="10" text-anchor="middle" textLength="16.2" lengthAdjust="spacingAndGlyphs">Scr</text>
<text x="440.7" y="446.3" font-size="10" text-anchor="middle" textLength="38.8" lengthAdjust="spacingAndGlyphs">si<tspan font-style="italic">Casp8</tspan></text>
<line x1="386.1" y1="452.5" x2="471.8" y2="452.5" stroke="#333" stroke-width="1"/>
<text x="423.5" y="464.7" font-size="11" text-anchor="middle" textLength="19.2" lengthAdjust="spacingAndGlyphs">CM</text>
<line x1="547.5" y1="256.6" x2="547.5" y2="414.3" stroke="#666666" stroke-width="1"/>
<line x1="547" y1="413.5" x2="685" y2="413.5" stroke="#666666" stroke-width="1"/>
<line x1="542.5" y1="413.5" x2="547.5" y2="413.5" stroke="#666666" stroke-width="1"/>
<text x="536.6" y="417.59" font-size="10.6" text-anchor="end">0</text>
<line x1="542.5" y1="382.5" x2="547.5" y2="382.5" stroke="#666666" stroke-width="1"/>
<text x="536.6" y="386.25" font-size="10.6" text-anchor="end">10</text>
<line x1="542.5" y1="351.5" x2="547.5" y2="351.5" stroke="#666666" stroke-width="1"/>
<text x="536.6" y="354.91" font-size="10.6" text-anchor="end">20</text>
<line x1="542.5" y1="319.5" x2="547.5" y2="319.5" stroke="#666666" stroke-width="1"/>
<text x="536.6" y="323.57" font-size="10.6" text-anchor="end">30</text>
<line x1="542.5" y1="288.5" x2="547.5" y2="288.5" stroke="#666666" stroke-width="1"/>
<text x="536.6" y="292.23" font-size="10.6" text-anchor="end">40</text>
<line x1="542.5" y1="257.5" x2="547.5" y2="257.5" stroke="#666666" stroke-width="1"/>
<text x="536.6" y="260.89" font-size="10.6" text-anchor="end">50</text>
<rect x="558.4" y="411.77" width="14.9" height="1.23" fill="#fff"/>
<path d="M558.4 413.5V411.77H573.3V413.5" fill="none" stroke="#111" stroke-width="2.2" stroke-linejoin="miter"/>
<circle cx="559.2" cy="411.8" r="2.6" fill="#000"/>
<circle cx="563.6" cy="409.5" r="2.6" fill="#000"/>
<circle cx="567.8" cy="411.2" r="2.6" fill="#000"/>
<circle cx="572.5" cy="409.9" r="2.6" fill="#000"/>
<rect x="585.9" y="367.39" width="14.9" height="45.61" fill="#fff"/>
<path d="M585.9 413.5V367.39H600.8V413.5" fill="none" stroke="#111" stroke-width="2.2" stroke-linejoin="miter"/>
<line x1="593.35" y1="363.97" x2="593.35" y2="368.67" stroke="#1a1a1a" stroke-width="1.1"/>
<line x1="589.07" y1="363.97" x2="597.62" y2="363.97" stroke="#1a1a1a" stroke-width="1.1"/>
<line x1="589.07" y1="368.67" x2="597.62" y2="368.67" stroke="#1a1a1a" stroke-width="1.1"/>
<circle cx="587.1" cy="361.5" r="2.6" fill="#000"/>
<circle cx="593.4" cy="361.5" r="2.6" fill="#000"/>
<circle cx="599.6" cy="364.9" r="2.6" fill="#000"/>
<circle cx="587.1" cy="370.1" r="2.6" fill="#000"/>
<rect x="613.5" y="399.23" width="14.8" height="13.77" fill="#fff"/>
<path d="M613.5 413.5V399.23H628.3V413.5" fill="none" stroke="#111" stroke-width="2.2" stroke-linejoin="miter"/>
<line x1="620.9" y1="396.56" x2="620.9" y2="399.7" stroke="#1a1a1a" stroke-width="1.1"/>
<line x1="616.65" y1="396.56" x2="625.15" y2="396.56" stroke="#1a1a1a" stroke-width="1.1"/>
<line x1="616.65" y1="399.7" x2="625.15" y2="399.7" stroke="#1a1a1a" stroke-width="1.1"/>
<circle cx="614.8" cy="391.5" r="2.6" fill="#000"/>
<circle cx="620.9" cy="396.6" r="2.6" fill="#000"/>
<circle cx="627" cy="398.1" r="2.6" fill="#000"/>
<circle cx="614.8" cy="400.4" r="2.6" fill="#000"/>
<rect x="645.7" y="314.3" width="15.8" height="98.7" fill="#fff"/>
<path d="M645.7 413.5V314.3H661.5V413.5" fill="none" stroke="#111" stroke-width="2.2" stroke-linejoin="miter"/>
<line x1="653.6" y1="297.53" x2="653.6" y2="326.36" stroke="#1a1a1a" stroke-width="1.1"/>
<line x1="649.1" y1="297.53" x2="658.1" y2="297.53" stroke="#1a1a1a" stroke-width="1.1"/>
<line x1="649.1" y1="326.36" x2="658.1" y2="326.36" stroke="#1a1a1a" stroke-width="1.1"/>
<circle cx="647.1" cy="290" r="2.6" fill="#000"/>
<circle cx="659.8" cy="290" r="2.6" fill="#000"/>
<circle cx="653.2" cy="316" r="2.6" fill="#000"/>
<circle cx="653.2" cy="351.7" r="2.6" fill="#000"/>
<line x1="621.9" y1="276.1" x2="654.1" y2="276.1" stroke="#2a2a2a" stroke-width="1.2"/>
<polygon points="628.1,265.95 628.88,268.03 631.1,268.13 629.36,269.51 629.95,271.65 628.1,270.42 626.25,271.65 626.84,269.51 625.1,268.13 627.32,268.03" fill="#111"/>
<polygon points="634.7,265.95 635.48,268.03 637.7,268.13 635.96,269.51 636.55,271.65 634.7,270.42 632.85,271.65 633.44,269.51 631.7,268.13 633.92,268.03" fill="#111"/>
<polygon points="641.3,265.95 642.08,268.03 644.3,268.13 642.56,269.51 643.15,271.65 641.3,270.42 639.45,271.65 640.04,269.51 638.3,268.13 640.52,268.03" fill="#111"/>
<polygon points="647.9,265.95 648.68,268.03 650.9,268.13 649.16,269.51 649.75,271.65 647.9,270.42 646.05,271.65 646.64,269.51 644.9,268.13 647.12,268.03" fill="#111"/>
<text x="499.7" y="335.7" font-size="11" text-anchor="middle" textLength="112" lengthAdjust="spacingAndGlyphs" transform="rotate(-90 499.7 335.7)"><tspan font-style="italic">Spp1</tspan> mRNA in HSCs</text>
<text x="512.6" y="334.7" font-size="11" text-anchor="middle" textLength="156.5" lengthAdjust="spacingAndGlyphs" transform="rotate(-90 512.6 334.7)">(relative to HSC-only group)</text>
<text x="566.2" y="428.6" font-size="10" text-anchor="middle" textLength="21.6" lengthAdjust="spacingAndGlyphs">HSC</text>
<text x="567.4" y="439.6" font-size="10" text-anchor="middle" textLength="21" lengthAdjust="spacingAndGlyphs">only</text>
<text x="592.4" y="428.6" font-size="10" text-anchor="middle" textLength="19" lengthAdjust="spacingAndGlyphs">GFP</text>
<text x="620.9" y="428.6" font-size="10" text-anchor="middle" textLength="19" lengthAdjust="spacingAndGlyphs">GFP</text>
<text x="656.8" y="428.6" font-size="10" text-anchor="middle" textLength="28.2" lengthAdjust="spacingAndGlyphs">Metrn</text>
<line x1="582.3" y1="433.5" x2="603.5" y2="433.5" stroke="#777" stroke-width="1"/>
<line x1="614.5" y1="433.5" x2="669.2" y2="433.5" stroke="#777" stroke-width="1"/>
<text x="593" y="446.3" font-size="10" text-anchor="middle" textLength="16.5" lengthAdjust="spacingAndGlyphs">Scr</text>
<text x="641.1" y="446.3" font-size="10" text-anchor="middle" textLength="38.8" lengthAdjust="spacingAndGlyphs">si<tspan font-style="italic">Casp8</tspan></text>
<line x1="583.8" y1="453.5" x2="669.6" y2="453.5" stroke="#333" stroke-width="1"/>
<text x="622.1" y="464.7" font-size="11" text-anchor="middle" textLength="19" lengthAdjust="spacingAndGlyphs">CM</text>
<text x="2.7" y="491" font-size="17.5" font-weight="bold" fill="#000" stroke="#000" stroke-width="0.5">d</text>
<rect x="68.8" y="486.8" width="10.3" height="10.3" fill="#fff" stroke="#333" stroke-width="1.2" rx="1"/>
<text x="84.3" y="495.5" font-size="11" textLength="99" lengthAdjust="spacingAndGlyphs">HSC only (no CM)</text>
<rect x="68.8" y="505.5" width="10.3" height="10.7" fill="#fff" stroke="#333" stroke-width="1.2" rx="1"/>
<line x1="68.6" y1="508.8" x2="79.3" y2="508.8" stroke="#333" stroke-width="1.1"/>
<line x1="68.6" y1="512.6" x2="79.3" y2="512.6" stroke="#333" stroke-width="1.1"/>
<text x="84.3" y="514.6" font-size="11" textLength="62.4" lengthAdjust="spacingAndGlyphs">Scr-HC CM</text>
<text x="162.1" y="514.6" font-size="11" textLength="30.6" lengthAdjust="spacingAndGlyphs">HSCs</text>
<rect x="68.2" y="524.2" width="11.5" height="11.5" fill="#000" rx="0.8"/>
<text x="84.3" y="532.2" font-size="11" textLength="92.2" lengthAdjust="spacingAndGlyphs">si<tspan font-style="italic">METRN</tspan>-HC CM</text>
<text x="191.6" y="532.2" font-size="11" textLength="30.8" lengthAdjust="spacingAndGlyphs">HSCs</text>
<path d="M150.3 510.7H157.9M155 508L158.2 510.7L155 513.4" fill="none" stroke="#1a1a1a" stroke-width="1.1" stroke-linecap="round" stroke-linejoin="round"/>
<path d="M180.1 528.5H187.7M184.8 525.8L188 528.5L184.8 531.2" fill="none" stroke="#1a1a1a" stroke-width="1.1" stroke-linecap="round" stroke-linejoin="round"/>
<line x1="62.5" y1="518.7" x2="62.5" y2="669.7" stroke="#666666" stroke-width="1"/>
<line x1="61.9" y1="669.5" x2="213.7" y2="669.5" stroke="#666666" stroke-width="1"/>
<line x1="57.4" y1="669.5" x2="62.4" y2="669.5" stroke="#666666" stroke-width="1"/>
<text x="51.5" y="672.92" font-size="10.4" text-anchor="end">0</text>
<line x1="57.4" y1="619.5" x2="62.4" y2="619.5" stroke="#666666" stroke-width="1"/>
<text x="51.5" y="622.92" font-size="10.4" text-anchor="end">5</text>
<line x1="57.4" y1="569.5" x2="62.4" y2="569.5" stroke="#666666" stroke-width="1"/>
<text x="51.5" y="572.92" font-size="10.4" text-anchor="end">10</text>
<line x1="57.4" y1="519.5" x2="62.4" y2="519.5" stroke="#666666" stroke-width="1"/>
<text x="51.5" y="522.92" font-size="10.4" text-anchor="end">15</text>
<rect x="70.3" y="661.7" width="11.8" height="7.3" fill="#fff"/>
<path d="M70.3 669.5V661.7H82.1V669.5" fill="none" stroke="#111" stroke-width="2" stroke-linejoin="miter"/>
<circle cx="70.8" cy="661" r="2.6" fill="#000"/>
<circle cx="74.6" cy="660" r="2.6" fill="#000"/>
<circle cx="77.8" cy="661" r="2.6" fill="#000"/>
<circle cx="81.3" cy="660" r="2.6" fill="#000"/>
<rect x="91.8" y="592.2" width="12" height="76.8" fill="#fff"/>
<line x1="92.3" y1="666.5" x2="103.3" y2="666.5" stroke="#555" stroke-width="1"/>
<line x1="92.3" y1="663.4" x2="103.3" y2="663.4" stroke="#555" stroke-width="1"/>
<line x1="92.3" y1="660.3" x2="103.3" y2="660.3" stroke="#555" stroke-width="1"/>
<line x1="92.3" y1="657.2" x2="103.3" y2="657.2" stroke="#555" stroke-width="1"/>
<line x1="92.3" y1="654.1" x2="103.3" y2="654.1" stroke="#555" stroke-width="1"/>
<line x1="92.3" y1="651" x2="103.3" y2="651" stroke="#555" stroke-width="1"/>
<line x1="92.3" y1="647.9" x2="103.3" y2="647.9" stroke="#555" stroke-width="1"/>
<line x1="92.3" y1="644.8" x2="103.3" y2="644.8" stroke="#555" stroke-width="1"/>
<line x1="92.3" y1="641.7" x2="103.3" y2="641.7" stroke="#555" stroke-width="1"/>
<line x1="92.3" y1="638.6" x2="103.3" y2="638.6" stroke="#555" stroke-width="1"/>
<line x1="92.3" y1="635.5" x2="103.3" y2="635.5" stroke="#555" stroke-width="1"/>
<line x1="92.3" y1="632.4" x2="103.3" y2="632.4" stroke="#555" stroke-width="1"/>
<line x1="92.3" y1="629.3" x2="103.3" y2="629.3" stroke="#555" stroke-width="1"/>
<line x1="92.3" y1="626.2" x2="103.3" y2="626.2" stroke="#555" stroke-width="1"/>
<line x1="92.3" y1="623.1" x2="103.3" y2="623.1" stroke="#555" stroke-width="1"/>
<line x1="92.3" y1="620" x2="103.3" y2="620" stroke="#555" stroke-width="1"/>
<line x1="92.3" y1="616.9" x2="103.3" y2="616.9" stroke="#555" stroke-width="1"/>
<line x1="92.3" y1="613.8" x2="103.3" y2="613.8" stroke="#555" stroke-width="1"/>
<line x1="92.3" y1="610.7" x2="103.3" y2="610.7" stroke="#555" stroke-width="1"/>
<line x1="92.3" y1="607.6" x2="103.3" y2="607.6" stroke="#555" stroke-width="1"/>
<line x1="92.3" y1="604.5" x2="103.3" y2="604.5" stroke="#555" stroke-width="1"/>
<line x1="92.3" y1="601.4" x2="103.3" y2="601.4" stroke="#555" stroke-width="1"/>
<line x1="92.3" y1="598.3" x2="103.3" y2="598.3" stroke="#555" stroke-width="1"/>
<line x1="92.3" y1="595.2" x2="103.3" y2="595.2" stroke="#555" stroke-width="1"/>
<path d="M91.8 669.5V592.2H103.8V669.5" fill="none" stroke="#111" stroke-width="2" stroke-linejoin="miter"/>
<line x1="97.8" y1="584.7" x2="97.8" y2="597.2" stroke="#2a2a2a" stroke-width="1.1"/>
<line x1="94.3" y1="584.7" x2="101.3" y2="584.7" stroke="#2a2a2a" stroke-width="1.1"/>
<line x1="94.3" y1="597.2" x2="101.3" y2="597.2" stroke="#2a2a2a" stroke-width="1.1"/>
<circle cx="97.4" cy="573.4" r="2.6" fill="#000"/>
<circle cx="93.5" cy="592.3" r="2.6" fill="#000"/>
<circle cx="101.5" cy="592.3" r="2.6" fill="#000"/>
<circle cx="97.6" cy="601.5" r="2.6" fill="#000"/>
<rect x="113.5" y="625.6" width="12" height="43.4" fill="#959595"/>
<path d="M113.5 669.5V625.6H125.5V669.5" fill="none" stroke="#111" stroke-width="2" stroke-linejoin="miter"/>
<line x1="119.5" y1="620.4" x2="119.5" y2="628.7" stroke="#2a2a2a" stroke-width="1.1"/>
<line x1="116" y1="620.4" x2="123" y2="620.4" stroke="#2a2a2a" stroke-width="1.1"/>
<line x1="116" y1="628.7" x2="123" y2="628.7" stroke="#2a2a2a" stroke-width="1.1"/>
<circle cx="114.9" cy="618.8" r="2.6" fill="#000"/>
<circle cx="123.6" cy="616.2" r="2.6" fill="#000"/>
<circle cx="119.1" cy="626.2" r="2.6" fill="#000"/>
<circle cx="119.1" cy="633.5" r="2.6" fill="#000"/>
<rect x="149.9" y="661.7" width="12" height="7.3" fill="#fff"/>
<path d="M149.9 669.5V661.7H161.9V669.5" fill="none" stroke="#111" stroke-width="2" stroke-linejoin="miter"/>
<circle cx="150.4" cy="661" r="2.6" fill="#000"/>
<circle cx="154.2" cy="660" r="2.6" fill="#000"/>
<circle cx="157.4" cy="661" r="2.6" fill="#000"/>
<circle cx="161" cy="660" r="2.6" fill="#000"/>
<rect x="171.6" y="624.2" width="12.1" height="44.8" fill="#fff"/>
<line x1="172.1" y1="666.5" x2="183.2" y2="666.5" stroke="#555" stroke-width="1"/>
<line x1="172.1" y1="663.4" x2="183.2" y2="663.4" stroke="#555" stroke-width="1"/>
<line x1="172.1" y1="660.3" x2="183.2" y2="660.3" stroke="#555" stroke-width="1"/>
<line x1="172.1" y1="657.2" x2="183.2" y2="657.2" stroke="#555" stroke-width="1"/>
<line x1="172.1" y1="654.1" x2="183.2" y2="654.1" stroke="#555" stroke-width="1"/>
<line x1="172.1" y1="651" x2="183.2" y2="651" stroke="#555" stroke-width="1"/>
<line x1="172.1" y1="647.9" x2="183.2" y2="647.9" stroke="#555" stroke-width="1"/>
<line x1="172.1" y1="644.8" x2="183.2" y2="644.8" stroke="#555" stroke-width="1"/>
<line x1="172.1" y1="641.7" x2="183.2" y2="641.7" stroke="#555" stroke-width="1"/>
<line x1="172.1" y1="638.6" x2="183.2" y2="638.6" stroke="#555" stroke-width="1"/>
<line x1="172.1" y1="635.5" x2="183.2" y2="635.5" stroke="#555" stroke-width="1"/>
<line x1="172.1" y1="632.4" x2="183.2" y2="632.4" stroke="#555" stroke-width="1"/>
<line x1="172.1" y1="629.3" x2="183.2" y2="629.3" stroke="#555" stroke-width="1"/>
<line x1="172.1" y1="626.2" x2="183.2" y2="626.2" stroke="#555" stroke-width="1"/>
<path d="M171.6 669.5V624.2H183.7V669.5" fill="none" stroke="#111" stroke-width="2" stroke-linejoin="miter"/>
<line x1="177.65" y1="618.2" x2="177.65" y2="628.2" stroke="#2a2a2a" stroke-width="1.1"/>
<line x1="174.12" y1="618.2" x2="181.17" y2="618.2" stroke="#2a2a2a" stroke-width="1.1"/>
<line x1="174.12" y1="628.2" x2="181.17" y2="628.2" stroke="#2a2a2a" stroke-width="1.1"/>
<circle cx="176.9" cy="613" r="2.6" fill="#000"/>
<circle cx="172.7" cy="621.7" r="2.6" fill="#000"/>
<circle cx="180.4" cy="624.2" r="2.6" fill="#000"/>
<circle cx="176.9" cy="634" r="2.6" fill="#000"/>
<rect x="192.6" y="641.1" width="12.2" height="27.9" fill="#959595"/>
<path d="M192.6 669.5V641.1H204.8V669.5" fill="none" stroke="#111" stroke-width="2" stroke-linejoin="miter"/>
<line x1="198.7" y1="634.7" x2="198.7" y2="646.2" stroke="#2a2a2a" stroke-width="1.1"/>
<line x1="195.15" y1="634.7" x2="202.25" y2="634.7" stroke="#2a2a2a" stroke-width="1.1"/>
<line x1="195.15" y1="646.2" x2="202.25" y2="646.2" stroke="#2a2a2a" stroke-width="1.1"/>
<circle cx="198.5" cy="625.5" r="2.6" fill="#000"/>
<circle cx="198.5" cy="637" r="2.6" fill="#000"/>
<circle cx="201.9" cy="645.6" r="2.6" fill="#000"/>
<circle cx="193.7" cy="651.1" r="2.6" fill="#000"/>
<line x1="95.3" y1="555.4" x2="121.2" y2="555.4" stroke="#2a2a2a" stroke-width="1.2"/>
<polygon points="98.9,545.95 99.68,548.03 101.9,548.13 100.16,549.51 100.75,551.65 98.9,550.42 97.05,551.65 97.64,549.51 95.9,548.13 98.12,548.03" fill="#111"/>
<polygon points="105.4,545.95 106.18,548.03 108.4,548.13 106.66,549.51 107.25,551.65 105.4,550.42 103.55,551.65 104.14,549.51 102.4,548.13 104.62,548.03" fill="#111"/>
<polygon points="111.9,545.95 112.68,548.03 114.9,548.13 113.16,549.51 113.75,551.65 111.9,550.42 110.05,551.65 110.64,549.51 108.9,548.13 111.12,548.03" fill="#111"/>
<polygon points="118.4,545.95 119.18,548.03 121.4,548.13 119.66,549.51 120.25,551.65 118.4,550.42 116.55,551.65 117.14,549.51 115.4,548.13 117.62,548.03" fill="#111"/>
<line x1="175.5" y1="555.4" x2="199" y2="555.4" stroke="#2a2a2a" stroke-width="1.2"/>
<polygon points="187.2,545.95 187.98,548.03 190.2,548.13 188.46,549.51 189.05,551.65 187.2,550.42 185.35,551.65 185.94,549.51 184.2,548.13 186.42,548.03" fill="#111"/>
<text x="99.2" y="683.7" font-size="11" text-anchor="middle" font-style="italic" textLength="33" lengthAdjust="spacingAndGlyphs">Timp1</text>
<text x="176.8" y="683.7" font-size="11" text-anchor="middle" font-style="italic" textLength="26.2" lengthAdjust="spacingAndGlyphs">Spp1</text>
<text x="17.9" y="594.2" font-size="11" text-anchor="middle" textLength="81" lengthAdjust="spacingAndGlyphs" transform="rotate(-90 17.9 594.2)">mRNA in HSCs</text>
<text x="31.6" y="593.7" font-size="11" text-anchor="middle" textLength="156" lengthAdjust="spacingAndGlyphs" transform="rotate(-90 31.6 593.7)">(relative to HSC-only group)</text>
<text x="249.4" y="491.3" font-size="17.5" font-weight="bold" fill="#000" stroke="#000" stroke-width="0.5">e</text>
<text x="343.4" y="494.8" font-size="10.6" text-anchor="middle" textLength="41" lengthAdjust="spacingAndGlyphs">Vehicle</text>
<line x1="298.2" y1="501.5" x2="387.5" y2="501.5" stroke="#333" stroke-width="1"/>
<text x="440.6" y="494.9" font-size="10.6" text-anchor="middle" textLength="57" lengthAdjust="spacingAndGlyphs">r-Meteorin</text>
<line x1="396.9" y1="501.5" x2="486.1" y2="501.5" stroke="#333" stroke-width="1"/>
<rect x="296.5" y="507.5" width="200" height="20" fill="#ebebeb"/>
<rect x="296.5" y="533.5" width="200" height="21" fill="#ebebeb"/>
<rect x="296.5" y="561.5" width="200" height="18" fill="#ebebeb"/>
<rect x="396.85" y="518" width="16.3" height="2.6" rx="1.3" fill="#111" filter="url(#bl0)"/>
<rect x="422" y="518" width="16" height="2.6" rx="1.3" fill="#111" filter="url(#bl0)"/>
<rect x="447" y="518" width="18" height="2.6" rx="1.3" fill="#111" filter="url(#bl0)"/>
<rect x="474.2" y="517.5" width="16.8" height="2.6" rx="1.3" fill="#111" filter="url(#bl0)"/>
<rect x="301.3" y="542.6" width="23.4" height="4" rx="2" fill="#111" filter="url(#bl0)"/>
<rect x="330.55" y="542.8" width="18.1" height="3.6" rx="1.8" fill="#151515" filter="url(#bl0)"/>
<rect x="355.25" y="542.7" width="16.9" height="3.8" rx="1.9" fill="#111" filter="url(#bl0)"/>
<rect x="377.6" y="542.8" width="17.2" height="3.6" rx="1.8" fill="#151515" filter="url(#bl0)"/>
<rect x="400.55" y="542.1" width="17.3" height="5" rx="2.5" fill="#0a0a0a" filter="url(#bl0)"/>
<rect x="423.45" y="542.1" width="17.5" height="5" rx="2.5" fill="#0a0a0a" filter="url(#bl0)"/>
<rect x="446.6" y="541.8" width="19" height="5.6" rx="2.8" fill="#050505" filter="url(#bl0)"/>
<rect x="469.75" y="541.3" width="19.3" height="6.6" rx="3.3" fill="#000" filter="url(#bl0)"/>
<rect x="300.25" y="568.4" width="23.9" height="3.2" rx="1.6" fill="#151515" filter="url(#bl0)"/>
<rect x="329.95" y="568.6" width="19.3" height="2.8" rx="1.4" fill="#2a2a2a" filter="url(#bl0)"/>
<rect x="355.25" y="568.7" width="17.5" height="3.2" rx="1.6" fill="#151515" filter="url(#bl0)"/>
<rect x="378.15" y="569.7" width="18.9" height="3.2" rx="1.6" fill="#151515" filter="url(#bl0)"/>
<rect x="402.65" y="570.1" width="16.9" height="3.4" rx="1.7" fill="#111" filter="url(#bl0)"/>
<rect x="425.45" y="569.7" width="18.1" height="3.2" rx="1.6" fill="#151515" filter="url(#bl0)"/>
<rect x="448.95" y="569.4" width="18.5" height="3.2" rx="1.6" fill="#151515" filter="url(#bl0)"/>
<rect x="473.2" y="570.2" width="20.4" height="3.2" rx="1.6" fill="#151515" filter="url(#bl0)"/>
<rect x="296.5" y="507.5" width="200" height="20" fill="none" stroke="#3c3c3c" stroke-width="1.1"/>
<rect x="296.5" y="533.5" width="200" height="21" fill="none" stroke="#3c3c3c" stroke-width="1.1"/>
<rect x="296.5" y="561.5" width="200" height="18" fill="none" stroke="#3c3c3c" stroke-width="1.1"/>
<text x="287" y="530.6" font-size="10.2" text-anchor="end" textLength="37.2" lengthAdjust="spacingAndGlyphs">75 kDa</text>
<line x1="291.2" y1="527.5" x2="296.2" y2="527.5" stroke="#6a6a6a" stroke-width="1"/>
<text x="287" y="557.2" font-size="10.2" text-anchor="end" textLength="37.2" lengthAdjust="spacingAndGlyphs">75 kDa</text>
<line x1="291.2" y1="553.5" x2="296.2" y2="553.5" stroke="#6a6a6a" stroke-width="1"/>
<text x="287" y="571" font-size="10.2" text-anchor="end" textLength="37.2" lengthAdjust="spacingAndGlyphs">37 kDa</text>
<line x1="291.2" y1="567.5" x2="296.2" y2="567.5" stroke="#6a6a6a" stroke-width="1"/>
<text x="501.6" y="520.5" font-size="11.2" textLength="80.6" lengthAdjust="spacingAndGlyphs">p-Y705-STAT3</text>
<text x="501.6" y="547" font-size="11.2" textLength="36.6" lengthAdjust="spacingAndGlyphs">STAT3</text>
<text x="501.6" y="574.4" font-size="11.2" textLength="40.6" lengthAdjust="spacingAndGlyphs">GAPDH</text>
<text x="2.4" y="712.6" font-size="17.5" font-weight="bold" fill="#000" stroke="#000" stroke-width="0.5">f</text>
<line x1="62.5" y1="733.3" x2="62.5" y2="842" stroke="#666666" stroke-width="1"/>
<line x1="61.5" y1="841.5" x2="229.2" y2="841.5" stroke="#666666" stroke-width="1"/>
<line x1="57" y1="841.5" x2="62" y2="841.5" stroke="#666666" stroke-width="1"/>
<text x="52.5" y="845.22" font-size="10.4" text-anchor="end">0</text>
<line x1="57" y1="814.5" x2="62" y2="814.5" stroke="#666666" stroke-width="1"/>
<text x="52.5" y="818.3" font-size="10.4" text-anchor="end">2</text>
<line x1="57" y1="787.5" x2="62" y2="787.5" stroke="#666666" stroke-width="1"/>
<text x="52.5" y="791.37" font-size="10.4" text-anchor="end">4</text>
<line x1="57" y1="760.5" x2="62" y2="760.5" stroke="#666666" stroke-width="1"/>
<text x="52.5" y="764.45" font-size="10.4" text-anchor="end">6</text>
<line x1="57" y1="733.5" x2="62" y2="733.5" stroke="#666666" stroke-width="1"/>
<text x="52.5" y="737.52" font-size="10.4" text-anchor="end">8</text>
<rect x="76.3" y="829.98" width="23.4" height="11.02" fill="#fff"/>
<path d="M76.3 841.5V829.98H99.7V841.5" fill="none" stroke="#111" stroke-width="2" stroke-linejoin="miter"/>
<line x1="88" y1="828.04" x2="88" y2="829.92" stroke="#444" stroke-width="1.1"/>
<line x1="81.65" y1="828.04" x2="94.35" y2="828.04" stroke="#444" stroke-width="1.1"/>
<line x1="81.65" y1="829.92" x2="94.35" y2="829.92" stroke="#444" stroke-width="1.1"/>
<circle cx="77.5" cy="830.1" r="2.6" fill="#000"/>
<circle cx="84.5" cy="826.6" r="2.6" fill="#000"/>
<circle cx="91.7" cy="829" r="2.6" fill="#000"/>
<circle cx="98.7" cy="827.8" r="2.6" fill="#000"/>
<rect x="115.6" y="757.96" width="22.6" height="83.04" fill="#fff"/>
<path d="M115.6 841.5V757.96H138.2V841.5" fill="none" stroke="#111" stroke-width="2" stroke-linejoin="miter"/>
<line x1="126.9" y1="754.13" x2="126.9" y2="758.17" stroke="#444" stroke-width="1.1"/>
<line x1="120.75" y1="754.13" x2="133.05" y2="754.13" stroke="#444" stroke-width="1.1"/>
<line x1="120.75" y1="758.17" x2="133.05" y2="758.17" stroke="#444" stroke-width="1.1"/>
<circle cx="115.9" cy="752.4" r="2.6" fill="#000"/>
<circle cx="137.4" cy="753.8" r="2.6" fill="#000"/>
<circle cx="126.5" cy="756.4" r="2.6" fill="#000"/>
<circle cx="126.5" cy="761.7" r="2.6" fill="#000"/>
<rect x="154.2" y="789.05" width="22.5" height="51.95" fill="#fff"/>
<path d="M154.2 841.5V789.05H176.7V841.5" fill="none" stroke="#111" stroke-width="2" stroke-linejoin="miter"/>
<line x1="165.45" y1="783.21" x2="165.45" y2="790.88" stroke="#444" stroke-width="1.1"/>
<line x1="159.32" y1="783.21" x2="171.57" y2="783.21" stroke="#444" stroke-width="1.1"/>
<line x1="159.32" y1="790.88" x2="171.57" y2="790.88" stroke="#444" stroke-width="1.1"/>
<circle cx="165.4" cy="776.2" r="2.6" fill="#000"/>
<circle cx="165.4" cy="786.7" r="2.6" fill="#000"/>
<circle cx="160.7" cy="793.7" r="2.6" fill="#000"/>
<circle cx="169.8" cy="792" r="2.6" fill="#000"/>
<rect x="192.7" y="803.46" width="22.5" height="37.54" fill="#fff"/>
<path d="M192.7 841.5V803.46H215.2V841.5" fill="none" stroke="#111" stroke-width="2" stroke-linejoin="miter"/>
<line x1="203.95" y1="800.71" x2="203.95" y2="804.21" stroke="#444" stroke-width="1.1"/>
<line x1="197.82" y1="800.71" x2="210.07" y2="800.71" stroke="#444" stroke-width="1.1"/>
<line x1="197.82" y1="804.21" x2="210.07" y2="804.21" stroke="#444" stroke-width="1.1"/>
<circle cx="193.1" cy="799.7" r="2.6" fill="#000"/>
<circle cx="193.1" cy="805" r="2.6" fill="#000"/>
<circle cx="204" cy="800.7" r="2.6" fill="#000"/>
<circle cx="214.5" cy="802.9" r="2.6" fill="#000"/>
<line x1="126.4" y1="717.9" x2="204.3" y2="717.9" stroke="#2a2a2a" stroke-width="1.2"/>
<polygon points="155.45,708.95 156.23,711.03 158.45,711.13 156.71,712.51 157.3,714.65 155.45,713.42 153.6,714.65 154.19,712.51 152.45,711.13 154.67,711.03" fill="#111"/>
<polygon points="162.05,708.95 162.83,711.03 165.05,711.13 163.31,712.51 163.9,714.65 162.05,713.42 160.2,714.65 160.79,712.51 159.05,711.13 161.27,711.03" fill="#111"/>
<polygon points="168.65,708.95 169.43,711.03 171.65,711.13 169.91,712.51 170.5,714.65 168.65,713.42 166.8,714.65 167.39,712.51 165.65,711.13 167.87,711.03" fill="#111"/>
<polygon points="175.25,708.95 176.03,711.03 178.25,711.13 176.51,712.51 177.1,714.65 175.25,713.42 173.4,714.65 173.99,712.51 172.25,711.13 174.47,711.03" fill="#111"/>
<line x1="126.4" y1="739.8" x2="165.8" y2="739.8" stroke="#2a2a2a" stroke-width="1.2"/>
<polygon points="136.2,730.55 136.98,732.63 139.2,732.73 137.46,734.11 138.05,736.25 136.2,735.02 134.35,736.25 134.94,734.11 133.2,732.73 135.42,732.63" fill="#111"/>
<polygon points="142.8,730.55 143.58,732.63 145.8,732.73 144.06,734.11 144.65,736.25 142.8,735.02 140.95,736.25 141.54,734.11 139.8,732.73 142.02,732.63" fill="#111"/>
<polygon points="149.4,730.55 150.18,732.63 152.4,732.73 150.66,734.11 151.25,736.25 149.4,735.02 147.55,736.25 148.14,734.11 146.4,732.73 148.62,732.63" fill="#111"/>
<polygon points="156,730.55 156.78,732.63 159,732.73 157.26,734.11 157.85,736.25 156,735.02 154.15,736.25 154.74,734.11 153,732.73 155.22,732.63" fill="#111"/>
<text x="88.65" y="855.2" font-size="11" text-anchor="middle" textLength="22.2" lengthAdjust="spacingAndGlyphs">Veh</text>
<text x="126.75" y="855.2" font-size="11" text-anchor="middle" textLength="19.6" lengthAdjust="spacingAndGlyphs">Scr</text>
<text x="164.45" y="855.2" font-size="11" text-anchor="middle" textLength="23" lengthAdjust="spacingAndGlyphs">si<tspan font-style="italic">Kit</tspan></text>
<text x="202.8" y="855.2" font-size="11" text-anchor="middle" textLength="38.3" lengthAdjust="spacingAndGlyphs">si<tspan font-style="italic">Stat3</tspan></text>
<line x1="112.5" y1="863.5" x2="224.2" y2="863.5" stroke="#333" stroke-width="1"/>
<text x="167.2" y="876.2" font-size="11" text-anchor="middle" textLength="58.5" lengthAdjust="spacingAndGlyphs">r-Meteorin</text>
<text x="21.3" y="786.9" font-size="11" text-anchor="middle" textLength="70.4" lengthAdjust="spacingAndGlyphs" transform="rotate(-90 21.3 786.9)"><tspan font-style="italic">Timp1</tspan> mRNA</text>
<text x="35.3" y="787.3" font-size="11" text-anchor="middle" textLength="125.5" lengthAdjust="spacingAndGlyphs" transform="rotate(-90 35.3 787.3)">(relative to Veh group)</text>
<line x1="300.5" y1="732.6" x2="300.5" y2="841.2" stroke="#666666" stroke-width="1"/>
<line x1="299.7" y1="840.5" x2="467" y2="840.5" stroke="#666666" stroke-width="1"/>
<line x1="295.2" y1="840.5" x2="300.2" y2="840.5" stroke="#666666" stroke-width="1"/>
<text x="290.5" y="844.42" font-size="10.4" text-anchor="end">0</text>
<line x1="295.2" y1="813.5" x2="300.2" y2="813.5" stroke="#666666" stroke-width="1"/>
<text x="290.5" y="817.52" font-size="10.4" text-anchor="end">5</text>
<line x1="295.2" y1="786.5" x2="300.2" y2="786.5" stroke="#666666" stroke-width="1"/>
<text x="290.5" y="790.62" font-size="10.4" text-anchor="end">10</text>
<line x1="295.2" y1="760.5" x2="300.2" y2="760.5" stroke="#666666" stroke-width="1"/>
<text x="290.5" y="763.72" font-size="10.4" text-anchor="end">15</text>
<line x1="295.2" y1="733.5" x2="300.2" y2="733.5" stroke="#666666" stroke-width="1"/>
<text x="290.5" y="736.82" font-size="10.4" text-anchor="end">20</text>
<rect x="315.1" y="837.29" width="22.9" height="2.71" fill="#fff"/>
<path d="M315.1 840.5V837.29H338V840.5" fill="none" stroke="#111" stroke-width="2" stroke-linejoin="miter"/>
<line x1="326.55" y1="835.59" x2="326.55" y2="836.93" stroke="#444" stroke-width="1.1"/>
<line x1="320.33" y1="835.59" x2="332.77" y2="835.59" stroke="#444" stroke-width="1.1"/>
<line x1="320.33" y1="836.93" x2="332.77" y2="836.93" stroke="#444" stroke-width="1.1"/>
<circle cx="315.4" cy="838" r="2.6" fill="#000"/>
<circle cx="322.8" cy="833.8" r="2.6" fill="#000"/>
<circle cx="329.8" cy="836.8" r="2.6" fill="#000"/>
<circle cx="336.7" cy="834.8" r="2.6" fill="#000"/>
<rect x="353.6" y="766.33" width="22.4" height="73.67" fill="#fff"/>
<path d="M353.6 840.5V766.33H376V840.5" fill="none" stroke="#111" stroke-width="2" stroke-linejoin="miter"/>
<line x1="364.8" y1="755.37" x2="364.8" y2="773.99" stroke="#444" stroke-width="1.1"/>
<line x1="358.7" y1="755.37" x2="370.9" y2="755.37" stroke="#444" stroke-width="1.1"/>
<line x1="358.7" y1="773.99" x2="370.9" y2="773.99" stroke="#444" stroke-width="1.1"/>
<circle cx="364.5" cy="746.2" r="2.6" fill="#000"/>
<circle cx="364.5" cy="751.9" r="2.6" fill="#000"/>
<circle cx="364.5" cy="777.7" r="2.6" fill="#000"/>
<circle cx="364.5" cy="782.9" r="2.6" fill="#000"/>
<rect x="392.1" y="807.21" width="22.3" height="32.79" fill="#fff"/>
<path d="M392.1 840.5V807.21H414.4V840.5" fill="none" stroke="#111" stroke-width="2" stroke-linejoin="miter"/>
<line x1="403.25" y1="800.78" x2="403.25" y2="809.5" stroke="#444" stroke-width="1.1"/>
<line x1="397.18" y1="800.78" x2="409.32" y2="800.78" stroke="#444" stroke-width="1.1"/>
<line x1="397.18" y1="809.5" x2="409.32" y2="809.5" stroke="#444" stroke-width="1.1"/>
<circle cx="398.5" cy="801.5" r="2.6" fill="#000"/>
<circle cx="407.5" cy="797.8" r="2.6" fill="#000"/>
<circle cx="407.5" cy="804" r="2.6" fill="#000"/>
<circle cx="403" cy="818.1" r="2.6" fill="#000"/>
<rect x="430.1" y="795.11" width="22.8" height="44.89" fill="#fff"/>
<path d="M430.1 840.5V795.11H452.9V840.5" fill="none" stroke="#111" stroke-width="2" stroke-linejoin="miter"/>
<line x1="441.5" y1="791.58" x2="441.5" y2="796.58" stroke="#444" stroke-width="1.1"/>
<line x1="435.3" y1="791.58" x2="447.7" y2="791.58" stroke="#444" stroke-width="1.1"/>
<line x1="435.3" y1="796.58" x2="447.7" y2="796.58" stroke="#444" stroke-width="1.1"/>
<circle cx="430.8" cy="795.8" r="2.6" fill="#000"/>
<circle cx="441.5" cy="788.4" r="2.6" fill="#000"/>
<circle cx="441.5" cy="793.3" r="2.6" fill="#000"/>
<circle cx="451.4" cy="795.8" r="2.6" fill="#000"/>
<line x1="365.9" y1="716.8" x2="443.8" y2="716.8" stroke="#555" stroke-width="1.4"/>
<polygon points="400.4,706.45 401.18,708.53 403.4,708.63 401.66,710.01 402.25,712.15 400.4,710.92 398.55,712.15 399.14,710.01 397.4,708.63 399.62,708.53" fill="#111"/>
<polygon points="407.5,706.45 408.28,708.53 410.5,708.63 408.76,710.01 409.35,712.15 407.5,710.92 405.65,712.15 406.24,710.01 404.5,708.63 406.72,708.53" fill="#111"/>
<line x1="364.2" y1="736.1" x2="403.8" y2="736.1" stroke="#2a2a2a" stroke-width="1.2"/>
<polygon points="378.4,727.75 379.18,729.83 381.4,729.93 379.66,731.31 380.25,733.45 378.4,732.22 376.55,733.45 377.14,731.31 375.4,729.93 377.62,729.83" fill="#111"/>
<polygon points="384.9,727.75 385.68,729.83 387.9,729.93 386.16,731.31 386.75,733.45 384.9,732.22 383.05,733.45 383.64,731.31 381.9,729.93 384.12,729.83" fill="#111"/>
<polygon points="391.4,727.75 392.18,729.83 394.4,729.93 392.66,731.31 393.25,733.45 391.4,732.22 389.55,733.45 390.14,731.31 388.4,729.93 390.62,729.83" fill="#111"/>
<text x="326.8" y="855.2" font-size="11" text-anchor="middle" textLength="21.7" lengthAdjust="spacingAndGlyphs">Veh</text>
<text x="365.3" y="855.2" font-size="11" text-anchor="middle" textLength="19.6" lengthAdjust="spacingAndGlyphs">Scr</text>
<text x="404.05" y="855.2" font-size="11" text-anchor="middle" textLength="23.8" lengthAdjust="spacingAndGlyphs">si<tspan font-style="italic">Kit</tspan></text>
<text x="442.8" y="855.2" font-size="11" text-anchor="middle" textLength="38.3" lengthAdjust="spacingAndGlyphs">si<tspan font-style="italic">Stat3</tspan></text>
<line x1="349.9" y1="863.5" x2="461.6" y2="863.5" stroke="#333" stroke-width="1"/>
<text x="406.4" y="876.2" font-size="11" text-anchor="middle" textLength="58.5" lengthAdjust="spacingAndGlyphs">r-Meteorin</text>
<text x="255.2" y="787.3" font-size="11" text-anchor="middle" textLength="64.6" lengthAdjust="spacingAndGlyphs" transform="rotate(-90 255.2 787.3)"><tspan font-style="italic">Spp1</tspan> mRNA</text>
<text x="269.5" y="786.9" font-size="11" text-anchor="middle" textLength="124.8" lengthAdjust="spacingAndGlyphs" transform="rotate(-90 269.5 786.9)">(relative to Veh group)</text>
</svg>
</body></html>
